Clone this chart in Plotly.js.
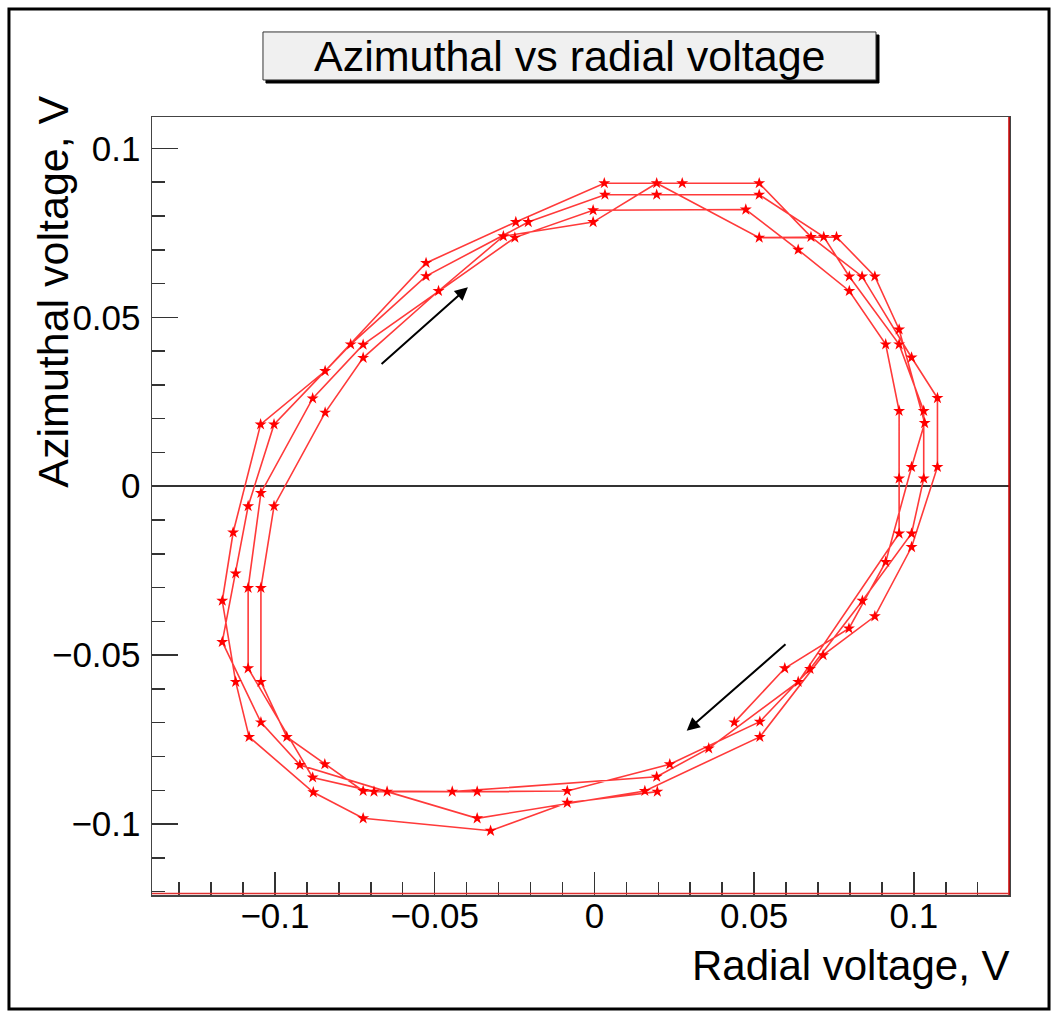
<!DOCTYPE html>
<html>
<head>
<meta charset="utf-8">
<script src="https://cdn.plot.ly/plotly-3.0.1.min.js"></script>
<style>
  html, body { margin: 0; padding: 0; background: #ffffff; }
  #chart { width: 1058px; height: 1016px; }
</style>
</head>
<body>
<div id="chart"></div>
<script>
// ---- data ----
// four successive clockwise passes of the trajectory
const loop1X = [0.0197,-0.0085,-0.0325,-0.0724,-0.0880,-0.1081,-0.1123,-0.1165,-0.1131,-0.1045,-0.0843,-0.0527,-0.0246,0.0031,0.0275,0.0516,0.0678,0.0838,0.0993,0.1074,0.1074,0.0993,0.0878,0.0716,0.0518];
const loop1Y = [-0.0904,-0.0937,-0.1020,-0.0983,-0.0906,-0.0742,-0.0579,-0.0339,-0.0137,0.0183,0.0341,0.0661,0.0782,0.0897,0.0897,0.0897,0.0738,0.0621,0.0381,0.0261,0.0057,-0.0180,-0.0385,-0.0500,-0.0742];

const loop2X = [0.0158,-0.0367,-0.0649,-0.0922,-0.1044,-0.1165,-0.1123,-0.1084,-0.1003,-0.0763,-0.0527,-0.0207,0.0033,0.0195,0.0516,0.0718,0.0798,0.0954,0.1031,0.1031,0.0993,0.0839,0.0675,0.0518];
const loop2Y = [-0.0902,-0.0983,-0.0904,-0.0825,-0.0699,-0.0461,-0.0258,-0.0059,0.0183,0.0420,0.0622,0.0782,0.0863,0.0863,0.0863,0.0738,0.0621,0.0420,0.0223,0.0023,-0.0140,-0.0339,-0.0541,-0.0697];

const loop3X = [0.0236,-0.0085,-0.0367,-0.0690,-0.0882,-0.1084,-0.1084,-0.1044,-0.0882,-0.0724,-0.0249,-0.0004,0.0474,0.0638,0.0798,0.0912,0.0954,0.0954,0.0954,0.0638,0.0358];
const loop3Y = [-0.0823,-0.0902,-0.0904,-0.0904,-0.0862,-0.0539,-0.0301,-0.0020,0.0260,0.0419,0.0736,0.0817,0.0819,0.0700,0.0578,0.0420,0.0223,0.0023,-0.0140,-0.0579,-0.0776];

const loop4X = [0.0195,-0.0445,-0.0724,-0.0844,-0.0963,-0.1044,-0.1044,-0.1003,-0.0843,-0.0724,-0.0488,-0.0285,-0.0004,0.0195,0.0516,0.0758,0.0878,0.0954,0.1034,0.0993,0.0912,0.0797,0.0596,0.0438];
const loop4Y = [-0.0860,-0.0904,-0.0902,-0.0823,-0.0742,-0.0579,-0.0301,-0.0059,0.0218,0.0380,0.0578,0.0740,0.0782,0.0897,0.0736,0.0738,0.0621,0.0464,0.0187,0.0057,-0.0224,-0.0421,-0.0539,-0.0699];

// direction arrows: [tailX, tailY, headX, headY]
const arrowUpper = [-0.0671, 0.0358, -0.0396, 0.0589];
const arrowLower = [0.0603, -0.0464, 0.0289, -0.0724];

const tickVals = [-0.1, -0.05, 0, 0.05, 0.1];
const tickText = ['\u22120.1', '\u22120.05', '0', '0.05', '0.1'];

const chartTitle = 'Azimuthal vs radial voltage';
const xTitle = 'Radial voltage, V';
const yTitle = 'Azimuthal voltage, V';

// ---- figure ----
const allX = loop1X.concat(loop2X, loop3X, loop4X);
const allY = loop1Y.concat(loop2Y, loop3Y, loop4Y);

const FONT = '"Liberation Sans", Arial, Helvetica, sans-serif';

const trace = {
  type: 'scatter',
  mode: 'lines+markers',
  x: allX,
  y: allY,
  line: { color: '#ff3a3a', width: 1.6 },
  marker: { symbol: 'star', size: 9, color: '#ff0000', line: { width: 0 } },
  hoverinfo: 'x+y',
  showlegend: false
};

const axisCommon = {
  showgrid: false,
  showline: true,
  linecolor: '#444444',
  linewidth: 1.5,
  mirror: true,
  ticks: 'inside',
  tickcolor: '#333333',
  tickwidth: 1.5,
  tickvals: tickVals,
  ticktext: tickText,
  tickfont: { family: FONT, size: 35, color: '#000000' },
  minor: { dtick: 0.01, ticks: 'inside', ticklen: 13, tickcolor: '#333333', tickwidth: 1.5, showgrid: false }
};

const layout = {
  width: 1058,
  height: 1016,
  paper_bgcolor: '#ffffff',
  plot_bgcolor: '#ffffff',
  margin: { l: 152, r: 49, t: 117, b: 121, pad: 0 },
  showlegend: false,
  xaxis: Object.assign({}, axisCommon, {
    range: [-0.1385, 0.1298],
    ticklen: 23,
    ticklabelstandoff: -11,
    zeroline: false
  }),
  yaxis: Object.assign({}, axisCommon, {
    range: [-0.1210, 0.1093],
    ticklen: 26,
    ticklabelstandoff: 3,
    zeroline: true,
    zerolinecolor: '#333333',
    zerolinewidth: 1.5
  }),
  shapes: [
    // outer page border
    { type: 'rect', xref: 'paper', yref: 'paper', x0: -0.1669, x1: 1.0467, y0: -0.1465, y1: 1.1388,
      line: { color: '#000000', width: 3 }, fillcolor: 'rgba(0,0,0,0)', layer: 'above' },
    // title box shadow
    { type: 'rect', xref: 'paper', yref: 'paper', x0: 0.1330, x1: 0.8483, y0: 1.0437, y1: 1.1054,
      line: { color: '#000000', width: 1 }, fillcolor: '#000000', layer: 'below' },
    // title box
    { type: 'rect', xref: 'paper', yref: 'paper', x0: 0.1295, x1: 0.8448, y0: 1.0476, y1: 1.1093,
      line: { color: '#333333', width: 1 }, fillcolor: '#f0f0f0', layer: 'below' },
    // red right frame edge
    { type: 'line', xref: 'paper', yref: 'paper', x0: 1, x1: 1, y0: 0, y1: 1,
      line: { color: '#cc0000', width: 1.5 }, layer: 'above' },
    // red bottom frame edge
    { type: 'line', xref: 'paper', yref: 'paper', x0: 0, x1: 1, y0: 0.002, y1: 0.002,
      line: { color: '#e03030', width: 1.5 }, layer: 'above' }
  ],
  annotations: [
    { xref: 'paper', yref: 'paper', x: 0.4872, y: 1.0785, xanchor: 'center', yanchor: 'middle',
      text: chartTitle, showarrow: false, font: { family: FONT, size: 43, color: '#000000' } },
    { xref: 'paper', yref: 'paper', x: 1.0035, y: -0.091, xanchor: 'right', yanchor: 'middle',
      text: xTitle, showarrow: false, font: { family: FONT, size: 42, color: '#000000' } },
    { xref: 'paper', yref: 'paper', x: -0.1155, y: 1.030, xanchor: 'center', yanchor: 'top',
      text: yTitle, textangle: -90, showarrow: false, font: { family: FONT, size: 43, color: '#000000' } },
    { xref: 'x', yref: 'y', axref: 'x', ayref: 'y',
      x: arrowUpper[2], y: arrowUpper[3], ax: arrowUpper[0], ay: arrowUpper[1],
      text: '', showarrow: true, arrowhead: 2, arrowsize: 1.3, arrowwidth: 2, arrowcolor: '#000000' },
    { xref: 'x', yref: 'y', axref: 'x', ayref: 'y',
      x: arrowLower[2], y: arrowLower[3], ax: arrowLower[0], ay: arrowLower[1],
      text: '', showarrow: true, arrowhead: 2, arrowsize: 1.3, arrowwidth: 2, arrowcolor: '#000000' }
  ]
};

Plotly.newPlot('chart', [trace], layout, { displayModeBar: false, staticPlot: true });
</script>
</body>
</html>
